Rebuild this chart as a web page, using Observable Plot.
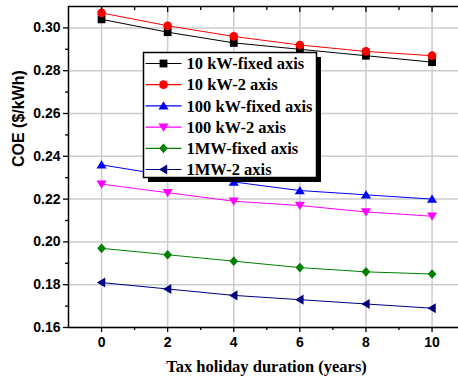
<!DOCTYPE html>
<html>
<head>
<meta charset="utf-8">
<script src="https://cdn.jsdelivr.net/npm/d3@7"></script>
<script src="https://cdn.jsdelivr.net/npm/@observablehq/plot@0.6"></script>
<style>
  html, body { margin: 0; padding: 0; background: white; }
  #chart svg text { font-weight: bold !important; }
  #chart svg .sans, #chart svg g[aria-label="y-axis tick label"] text, #chart svg g[aria-label="x-axis tick label"] text { font-family: "Liberation Sans", Arial, sans-serif; }
</style>
</head>
<body>
<div id="chart"></div>
<script>
const years = [0, 2, 4, 6, 8, 10];
const seriesNames = ["10 kW-fixed axis", "10 kW-2 axis", "100 kW-fixed axis", "100 kW-2 axis", "1MW-fixed axis", "1MW-2 axis"];
const seriesColors = ["#000000", "#ff0000", "#0000ff", "#ff00ff", "#008000", "#000080"];
const kw10Fixed  = [0.304, 0.298, 0.293, 0.290, 0.287, 0.284];
const kw10Two    = [0.307, 0.301, 0.296, 0.292, 0.289, 0.287];
const kw100Fixed = [0.236, 0.231, 0.228, 0.224, 0.222, 0.220];
const kw100Two   = [0.227, 0.223, 0.219, 0.217, 0.214, 0.212];
const mw1Fixed   = [0.197, 0.194, 0.191, 0.188, 0.186, 0.185];
const mw1Two     = [0.181, 0.178, 0.175, 0.173, 0.171, 0.169];
const xMajorTicks = [0, 2, 4, 6, 8, 10];
const xMinorTicks = [1, 3, 5, 7, 9];
const yMajorTicks = [0.16, 0.18, 0.20, 0.22, 0.24, 0.26, 0.28, 0.30];
const yMinorTicks = [0.17, 0.19, 0.21, 0.23, 0.25, 0.27, 0.29];

const allSeries = [kw10Fixed, kw10Two, kw100Fixed, kw100Two, mw1Fixed, mw1Two];
const data = [];
allSeries.forEach((vals, i) => vals.forEach((v, j) => data.push({s: seriesNames[i], x: years[j], y: v})));

const rOf = size => Math.sqrt(size / Math.PI);
const symSquare = {draw(c, size) { const r = rOf(size) * 0.85; c.rect(-r, -r, 2 * r, 2 * r); }};
const symCircle = {draw(c, size) { const r = rOf(size) * 0.95; c.moveTo(r, 0); c.arc(0, 0, r, 0, 2 * Math.PI); c.closePath(); }};
const symTriUp = {draw(c, size) { const r = rOf(size); c.moveTo(0, -r); c.lineTo(r * 1.1, r * 0.8); c.lineTo(-r * 1.1, r * 0.8); c.closePath(); }};
const symTriDown = {draw(c, size) { const r = rOf(size); c.moveTo(0, r); c.lineTo(r * 1.1, -r * 0.8); c.lineTo(-r * 1.1, -r * 0.8); c.closePath(); }};
const symDiamond = {draw(c, size) { const r = rOf(size) * 1.05; c.moveTo(0, -r); c.lineTo(r * 0.9, 0); c.lineTo(0, r); c.lineTo(-r * 0.9, 0); c.closePath(); }};
const symTriLeft = {draw(c, size) { const r = rOf(size); c.moveTo(-r, 0); c.lineTo(r * 0.8, -r * 1.1); c.lineTo(r * 0.8, r * 1.1); c.closePath(); }};
const seriesSymbols = [symSquare, symCircle, symTriUp, symTriDown, symDiamond, symTriLeft];

const tickStyle = {strokeWidth: 1.3};

const plot = Plot.plot({
  width: 458,
  height: 385,
  marginLeft: 68,
  marginTop: 6,
  marginRight: 0,
  marginBottom: 58,
  x: {domain: [-1, 10.8]},
  y: {domain: [0.16, 0.31]},
  color: {domain: seriesNames, range: seriesColors},
  symbol: {domain: seriesNames, range: seriesSymbols},
  style: {fontFamily: "Liberation Sans, Arial, sans-serif", fontSize: "14px", fontWeight: "bold", background: "white", color: "black"},
  marks: [
    Plot.gridX(xMajorTicks, {stroke: "#cccccc", strokeOpacity: 1, strokeWidth: 1.5}),
    Plot.gridY(yMajorTicks, {stroke: "#cccccc", strokeOpacity: 1, strokeWidth: 1.5}),
    Plot.line(data, {x: "x", y: "y", z: "s", stroke: "s", strokeWidth: 1}),
    Plot.dot(data, {x: "x", y: "y", fill: "s", symbol: "s", r: 4.6, stroke: "none"}),
    Plot.ruleY([0.31], {stroke: "black", strokeWidth: 1.5}),
    Plot.ruleY([0.16], {stroke: "black", strokeWidth: 1.5}),
    Plot.ruleX([-1], {stroke: "black", strokeWidth: 1.5}),
    Plot.axisY(yMajorTicks, {tickSize: 5, tickPadding: 3, tickFormat: ".2f", label: null, fontSize: 14, fontWeight: "bold", ...tickStyle}),
    Plot.axisY(yMinorTicks, {tickSize: 3, fill: "none", label: null, ...tickStyle}),
    Plot.axisX(xMajorTicks, {tickSize: 5, tickPadding: 5, tickFormat: "d", label: null, fontSize: 14, fontWeight: "bold", ...tickStyle}),
    Plot.axisX(xMinorTicks, {tickSize: 3, fill: "none", label: null, ...tickStyle}),
    Plot.axisX(xMajorTicks, {anchor: "top", tickSize: -5, fill: "none", label: null, ...tickStyle}),
    Plot.axisX(xMinorTicks, {anchor: "top", tickSize: -3, fill: "none", label: null, ...tickStyle}),
    Plot.text(["COE ($/kWh)"], {frameAnchor: "left", rotate: -90, dx: -50, fontSize: 16, fontWeight: "bold", fontFamily: "Liberation Sans, Arial, sans-serif"}),
    Plot.text(["Tax holiday duration (years)"], {frameAnchor: "bottom", dy: 44, dx: 3, fontSize: 16.5, fontWeight: "bold", fontFamily: "Liberation Serif, Times New Roman, serif"})
  ]
});

// Legend box
const svg = d3.select(plot);
const lg = svg.append("g").attr("transform", "translate(143.5,52.5)");
const lw = 173, lh = 125;
lg.append("rect").attr("x", 4.5).attr("y", 4.5).attr("width", lw).attr("height", lh).attr("fill", "black");
lg.append("rect").attr("x", 0).attr("y", 0).attr("width", lw).attr("height", lh).attr("fill", "white").attr("stroke", "black").attr("stroke-width", 1.5);
seriesNames.forEach((name, i) => {
  const cy = 11 + i * 21.2;
  lg.append("line").attr("x1", 2).attr("x2", 38).attr("y1", cy).attr("y2", cy).attr("stroke", seriesColors[i]).attr("stroke-width", 1.2);
  lg.append("path").attr("d", d3.symbol(seriesSymbols[i], 4.6 * 4.6 * Math.PI)()).attr("transform", `translate(20,${cy})`).attr("fill", seriesColors[i]);
  lg.append("text").attr("x", 43).attr("y", cy).attr("dy", "0.35em").attr("text-anchor", "start").text(name)
    .attr("font-family", "Liberation Serif, Times New Roman, serif").attr("font-weight", "bold").attr("font-size", 16.5).attr("fill", "black");
});

document.getElementById("chart").appendChild(plot);
</script>
</body>
</html>
